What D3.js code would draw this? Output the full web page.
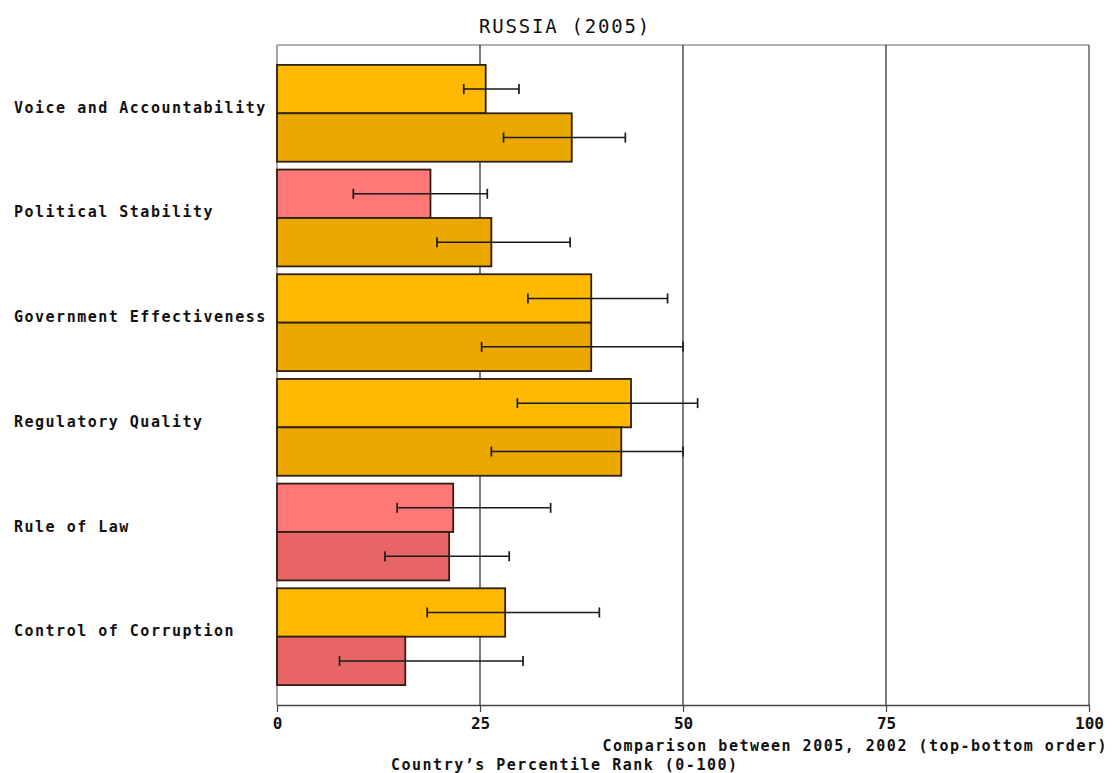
<!DOCTYPE html>
<html>
<head>
<meta charset="utf-8">
<script src="https://cdn.jsdelivr.net/npm/d3@7"></script>
<style>
  body { margin: 0; background: #fff; }
  svg text { font-family: "DejaVu Sans Mono", monospace; }
</style>
</head>
<body>
<div id="chart"></div>
<script>
// data
const categories = ["Voice and Accountability", "Political Stability", "Government Effectiveness",
                    "Regulatory Quality", "Rule of Law", "Control of Corruption"];
const years = ["2005", "2002"];
const rank2005 = [25.7, 18.9, 38.7, 43.6, 21.7, 28.1];
const low2005  = [23.0, 9.4, 30.9, 29.6, 14.8, 18.5];
const high2005 = [29.8, 25.9, 48.1, 51.8, 33.7, 39.7];
const rank2002 = [36.3, 26.4, 38.7, 42.4, 21.2, 15.8];
const low2002  = [27.9, 19.7, 25.2, 26.4, 13.3, 7.7];
const high2002 = [42.9, 36.1, 50.0, 50.0, 28.6, 30.3];
const xTicks = [0, 25, 50, 75, 100];

const W = 1113, H = 773;
const svg = d3.select("#chart").append("svg").attr("width", W).attr("height", H);

const x = d3.scaleLinear().domain([0, 100]).range([277, 1089]);
const y = d3.scaleBand().domain(categories).range([45, 705])
    .paddingInner(0.075).paddingOuter(0.19);
const sub = d3.scaleBand().domain(years).range([0, y.bandwidth()]);

// color by percentile range; older year gets the darker shade
function barColor(v, yr) {
    if (v < 25) return yr === "2005" ? "#ff7777" : "#e86565";
    return yr === "2005" ? "#ffb900" : "#eba800";
}

const rows = [];
categories.forEach((c, i) => {
    rows.push({cat: c, yr: "2005", v: rank2005[i], lo: low2005[i], hi: high2005[i]});
    rows.push({cat: c, yr: "2002", v: rank2002[i], lo: low2002[i], hi: high2002[i]});
});

// frame
svg.append("line").attr("x1", x(0)).attr("x2", x(100)).attr("y1", 45).attr("y2", 45)
    .style("stroke", "#999").style("stroke-width", 1.5);
svg.append("line").attr("x1", x(0)).attr("x2", x(0)).attr("y1", 45).attr("y2", 705)
    .style("stroke", "#888").style("stroke-width", 1.5);
svg.append("line").attr("x1", x(100)).attr("x2", x(100)).attr("y1", 45).attr("y2", 705)
    .style("stroke", "#666").style("stroke-width", 1.5);

// gridlines
svg.selectAll("line.grid")
    .data([25, 50, 75])
    .enter().append("line")
    .attr("class", "grid")
    .attr("x1", d => x(d)).attr("x2", d => x(d))
    .attr("y1", 45).attr("y2", 705)
    .style("stroke", "#333").style("stroke-width", 1.3);

// bars
svg.selectAll("rect.bar")
    .data(rows)
    .enter().append("rect")
    .attr("class", "bar")
    .attr("x", x(0))
    .attr("y", d => y(d.cat) + sub(d.yr))
    .attr("width", d => x(d.v) - x(0))
    .attr("height", sub.bandwidth())
    .style("fill", d => barColor(d.v, d.yr))
    .style("stroke", "#2e1f14")
    .style("stroke-width", 1.8);

// error bars
const eb = svg.selectAll("g.err").data(rows).enter().append("g").attr("class", "err")
    .attr("transform", d => `translate(0,${y(d.cat) + sub(d.yr) + sub.bandwidth() / 2})`);
eb.append("line").attr("x1", d => x(d.lo)).attr("x2", d => x(d.hi))
    .style("stroke", "#1a1a1a").style("stroke-width", 1.5);
eb.append("line").attr("x1", d => x(d.lo)).attr("x2", d => x(d.lo)).attr("y1", -5).attr("y2", 5)
    .style("stroke", "#1a1a1a").style("stroke-width", 1.7);
eb.append("line").attr("x1", d => x(d.hi)).attr("x2", d => x(d.hi)).attr("y1", -5).attr("y2", 5)
    .style("stroke", "#1a1a1a").style("stroke-width", 1.7);

// category labels
svg.selectAll("text.cat")
    .data(categories)
    .enter().append("text")
    .attr("class", "cat")
    .attr("x", 14)
    .attr("y", d => y(d) + y.bandwidth() / 2 - 5)
    .attr("dominant-baseline", "middle")
    .style("font-size", "15px").style("font-weight", "bold")
    .style("letter-spacing", "1.5px")
    .style("fill", "#111")
    .text(d => d);

// x axis
const axis = svg.append("g")
    .attr("transform", "translate(0,705)")
    .call(d3.axisBottom(x).tickValues(xTicks).tickSize(7).tickPadding(6).tickSizeOuter(0));
axis.select(".domain").style("stroke", "#444").style("stroke-width", 1.5);
axis.selectAll(".tick line").style("stroke", "#444").style("stroke-width", 1.2);
axis.selectAll(".tick text")
    .style("font-size", "16px").style("font-weight", "bold")
    .style("font-family", "DejaVu Sans Mono, monospace")
    .style("fill", "#111");

// title and axis captions
svg.append("text")
    .attr("x", 565).attr("y", 27)
    .attr("text-anchor", "middle").attr("dominant-baseline", "middle")
    .style("font-size", "19px").style("letter-spacing", "1.8px").style("fill", "#111")
    .text("RUSSIA (2005)");

svg.append("text")
    .attr("x", 1108).attr("y", 746)
    .attr("text-anchor", "end").attr("dominant-baseline", "middle")
    .style("font-size", "15px").style("font-weight", "bold").style("letter-spacing", "1.5px")
    .style("fill", "#111")
    .text("Comparison between 2005, 2002 (top-bottom order)");

svg.append("text")
    .attr("x", 391).attr("y", 765)
    .attr("dominant-baseline", "middle")
    .style("font-size", "15px").style("font-weight", "bold").style("letter-spacing", "1.5px")
    .style("fill", "#111")
    .text("Country\u2019s Percentile Rank (0-100)");
</script>
</body>
</html>
